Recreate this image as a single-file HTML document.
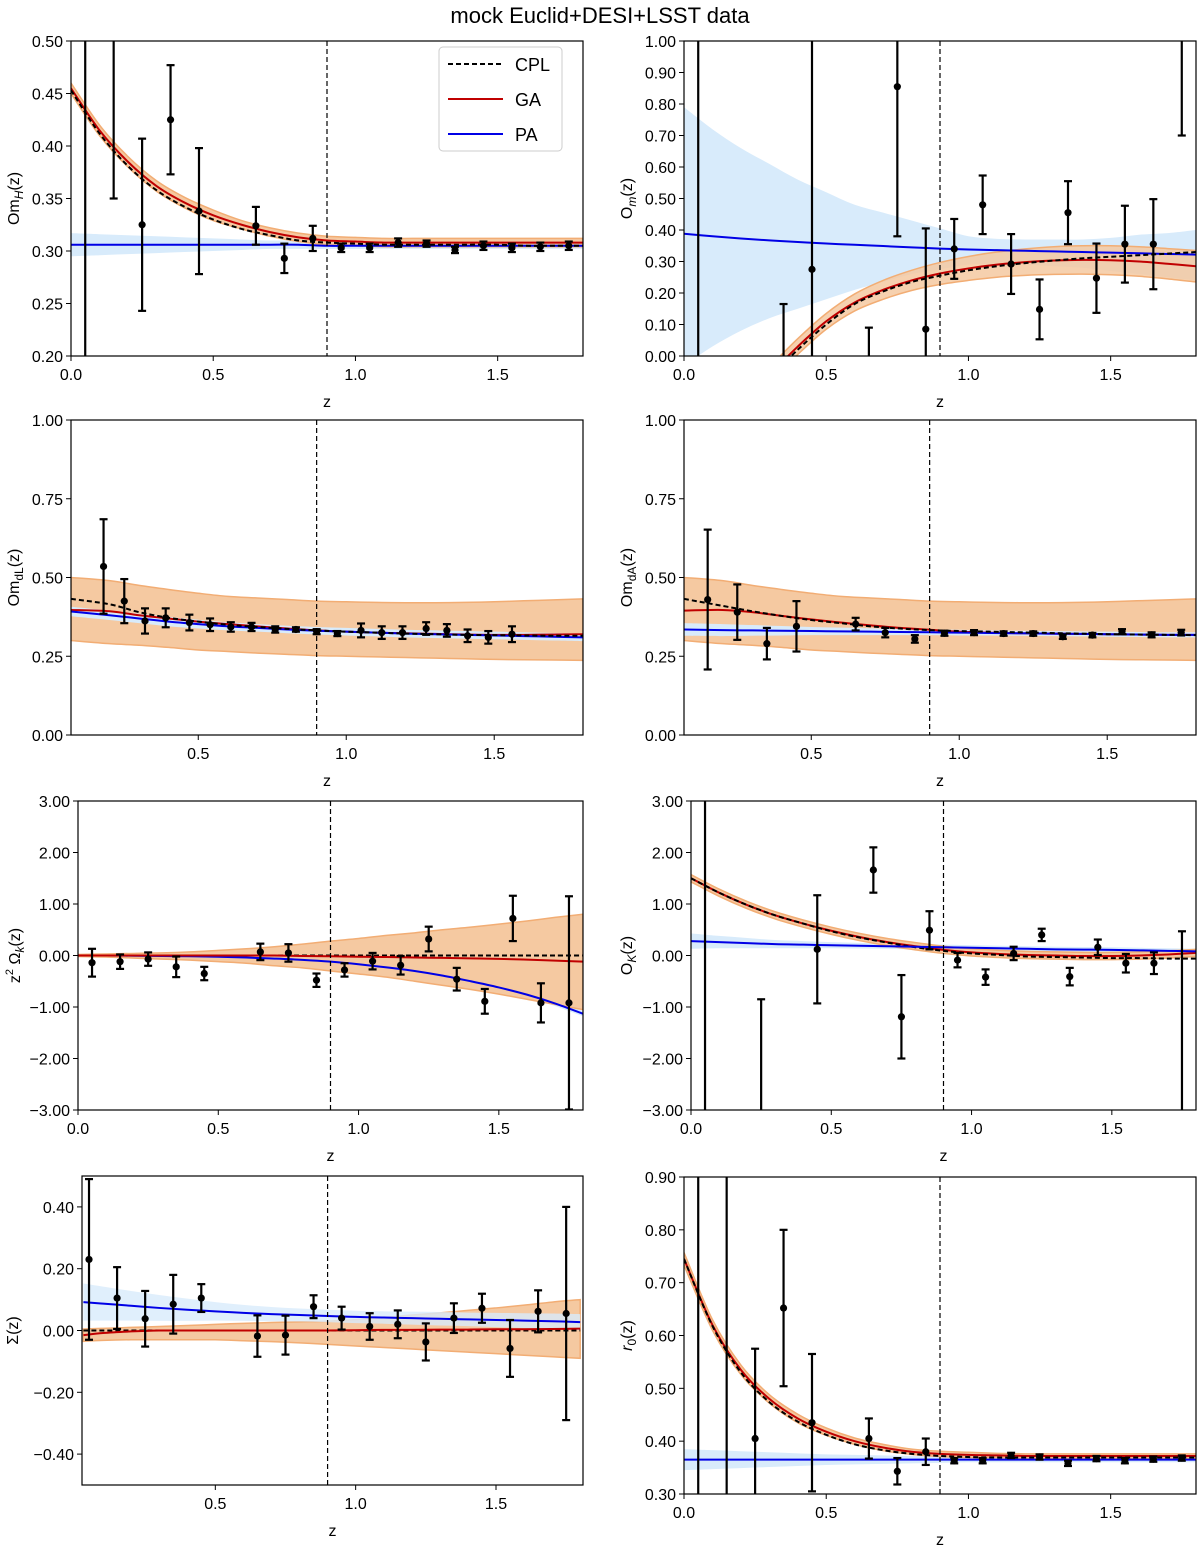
<!DOCTYPE html>
<html><head><meta charset="utf-8"><style>
html,body{margin:0;padding:0;background:#fff;overflow:hidden;width:1200px;height:1548px;}
svg{display:block;font-family:"Liberation Sans",Arial,sans-serif;}
</style></head><body>
<svg id="fig" width="1200" height="1548" viewBox="0 0 1200 1548" xmlns="http://www.w3.org/2000/svg">
<text x="600" y="23" font-size="22" text-anchor="middle" fill="#000">mock Euclid+DESI+LSST data</text>
</svg>
<script>
// ---------- Panel 1: Om_H ----------
const p1_gridZ=[0,0.1,0.2,0.3,0.4,0.5,0.6,0.7,0.8,0.9,1.0,1.1,1.2,1.3,1.4,1.5,1.6,1.7,1.8];
const p1_ga=[0.455,0.415,0.385,0.362,0.346,0.334,0.325,0.318,0.313,0.310,0.309,0.308,0.308,0.308,0.308,0.308,0.308,0.308,0.308];
const p1_gaW=[0.005,0.005,0.005,0.005,0.005,0.005,0.004,0.004,0.004,0.004,0.004,0.004,0.004,0.004,0.004,0.004,0.004,0.004,0.004];
const p1_cpl=[0.453,0.412,0.381,0.358,0.342,0.330,0.321,0.315,0.310,0.308,0.307,0.306,0.306,0.306,0.306,0.306,0.305,0.305,0.305];
const p1_pa=[0.306,0.306,0.306,0.306,0.306,0.306,0.306,0.306,0.306,0.305,0.305,0.305,0.305,0.305,0.305,0.305,0.305,0.305,0.305];
const p1_paW=[0.011,0.010,0.009,0.008,0.007,0.006,0.005,0.004,0.004,0.003,0.003,0.003,0.003,0.003,0.003,0.003,0.003,0.003,0.003];
const p1_dataZ=[0.05,0.15,0.25,0.35,0.45,0.65,0.75,0.85,0.95,1.05,1.15,1.25,1.35,1.45,1.55,1.65,1.75];
const p1_dataY=[0.1,0.56,0.325,0.425,0.338,0.324,0.293,0.312,0.303,0.303,0.308,0.307,0.301,0.305,0.303,0.304,0.305];
const p1_dataE=[0.5,0.21,0.082,0.052,0.06,0.018,0.014,0.012,0.004,0.004,0.004,0.003,0.003,0.004,0.004,0.004,0.004];
const p1_yTicks=[0.20,0.25,0.30,0.35,0.40,0.45,0.50];
// ---------- Panel 2: O_m ----------
const p2_gaZ=[0.3,0.4,0.5,0.6,0.7,0.8,0.9,1.0,1.1,1.2,1.3,1.4,1.5,1.6,1.7,1.8];
const p2_ga=[-0.06,0.03,0.11,0.17,0.21,0.24,0.262,0.278,0.29,0.298,0.303,0.305,0.304,0.300,0.293,0.285];
const p2_gaW=[0.025,0.025,0.025,0.027,0.03,0.032,0.035,0.038,0.04,0.042,0.044,0.045,0.046,0.047,0.048,0.05];
const p2_cpl=[-0.07,0.02,0.10,0.165,0.205,0.235,0.255,0.272,0.285,0.295,0.303,0.31,0.315,0.32,0.325,0.33];
const p2_paZ=[0,0.1,0.2,0.3,0.4,0.5,0.6,0.7,0.8,0.9,1.0,1.1,1.2,1.3,1.4,1.5,1.6,1.7,1.8];
const p2_pa=[0.388,0.38,0.373,0.367,0.362,0.357,0.353,0.349,0.345,0.341,0.338,0.336,0.334,0.332,0.33,0.328,0.326,0.324,0.322];
const p2_paLo=[-0.03,0.03,0.08,0.12,0.15,0.18,0.21,0.235,0.26,0.275,0.29,0.293,0.29,0.285,0.28,0.27,0.26,0.25,0.24];
const p2_paHi=[0.79,0.72,0.66,0.61,0.56,0.52,0.48,0.455,0.43,0.405,0.38,0.372,0.37,0.37,0.37,0.375,0.385,0.39,0.40];
const p2_dataZ=[0.05,0.35,0.45,0.65,0.75,0.85,0.95,1.05,1.15,1.25,1.35,1.45,1.55,1.65,1.75];
const p2_dataY=[1.2,-0.2,0.275,-0.3,0.855,0.085,0.34,0.48,0.292,0.148,0.455,0.247,0.355,0.355,1.2];
const p2_dataE=[1.5,0.365,0.9,0.39,0.475,0.32,0.095,0.093,0.095,0.095,0.1,0.11,0.122,0.143,0.5];
const p2_yTicks=[0,0.1,0.2,0.3,0.4,0.5,0.6,0.7,0.8,0.9,1.0];
// ---------- Panel 3: Om_dL ----------
const p3_gridZ=[0.07,0.2,0.3,0.4,0.5,0.6,0.7,0.8,0.9,1.0,1.1,1.2,1.3,1.4,1.5,1.6,1.7,1.8];
const p3_bandHi=[0.50,0.49,0.475,0.462,0.45,0.44,0.435,0.43,0.425,0.423,0.421,0.42,0.42,0.421,0.423,0.426,0.429,0.432];
const p3_bandLo=[0.30,0.29,0.285,0.278,0.27,0.265,0.26,0.256,0.252,0.25,0.248,0.246,0.244,0.242,0.24,0.239,0.238,0.237];
const p3_ga=[0.397,0.393,0.38,0.37,0.36,0.352,0.345,0.338,0.332,0.328,0.325,0.323,0.321,0.319,0.318,0.318,0.319,0.32];
const p3_cpl=[0.432,0.415,0.39,0.372,0.36,0.35,0.343,0.337,0.332,0.328,0.325,0.322,0.32,0.318,0.317,0.316,0.315,0.315];
const p3_pa=[0.392,0.38,0.37,0.36,0.352,0.345,0.34,0.335,0.331,0.328,0.325,0.322,0.32,0.318,0.316,0.314,0.312,0.31];
const p3_paW=[0.015,0.015,0.015,0.015,0.014,0.013,0.012,0.012,0.012,0.012,0.012,0.012,0.012,0.012,0.012,0.012,0.012,0.012];
const p3_dataZ=[0.18,0.25,0.32,0.39,0.47,0.54,0.61,0.68,0.76,0.83,0.90,0.97,1.05,1.12,1.19,1.27,1.34,1.41,1.48,1.56];
const p3_dataY=[0.535,0.425,0.362,0.372,0.357,0.350,0.343,0.343,0.335,0.335,0.328,0.322,0.332,0.325,0.325,0.338,0.332,0.315,0.310,0.320];
const p3_dataE=[0.15,0.07,0.04,0.03,0.025,0.02,0.015,0.013,0.01,0.007,0.008,0.008,0.022,0.02,0.02,0.02,0.02,0.02,0.02,0.025];
const p3_yTicks=[0,0.25,0.5,0.75,1.0];
// ---------- Panel 4: Om_dA ----------
const p4_gridZ=[0.07,0.2,0.3,0.4,0.5,0.6,0.7,0.8,0.9,1.0,1.1,1.2,1.3,1.4,1.5,1.6,1.7,1.8];
const p4_bandHi=[0.50,0.49,0.475,0.462,0.45,0.44,0.435,0.43,0.425,0.423,0.421,0.42,0.42,0.421,0.423,0.426,0.429,0.432];
const p4_bandLo=[0.30,0.29,0.285,0.278,0.27,0.265,0.26,0.256,0.252,0.25,0.248,0.246,0.244,0.242,0.24,0.239,0.238,0.237];
const p4_ga=[0.395,0.397,0.39,0.378,0.367,0.357,0.348,0.34,0.334,0.328,0.325,0.323,0.322,0.321,0.32,0.319,0.318,0.318];
const p4_cpl=[0.432,0.41,0.393,0.378,0.365,0.355,0.345,0.338,0.333,0.33,0.328,0.326,0.324,0.322,0.32,0.319,0.318,0.317];
const p4_pa=[0.335,0.333,0.332,0.331,0.33,0.329,0.328,0.327,0.326,0.325,0.324,0.323,0.322,0.321,0.32,0.319,0.318,0.318];
const p4_paW=[0.02,0.019,0.017,0.015,0.013,0.012,0.011,0.01,0.009,0.009,0.008,0.008,0.008,0.008,0.008,0.008,0.008,0.008];
const p4_dataZ=[0.15,0.25,0.35,0.45,0.65,0.75,0.85,0.95,1.05,1.15,1.25,1.35,1.45,1.55,1.65,1.75];
const p4_dataY=[0.43,0.39,0.29,0.345,0.352,0.325,0.305,0.323,0.325,0.322,0.322,0.312,0.317,0.328,0.318,0.325];
const p4_dataE=[0.222,0.088,0.05,0.08,0.02,0.015,0.012,0.008,0.008,0.007,0.007,0.007,0.007,0.008,0.008,0.009];
const p4_yTicks=[0,0.25,0.5,0.75,1.0];
// ---------- Panel 5: z^2 Omega_k ----------
const p5_gridZ=[0,0.1,0.2,0.3,0.4,0.5,0.6,0.7,0.8,0.9,1.0,1.1,1.2,1.3,1.4,1.5,1.6,1.7,1.8];
const p5_ga=[0,0,0,0,0,0,0,0,-0.01,-0.015,-0.025,-0.03,-0.04,-0.045,-0.055,-0.065,-0.08,-0.1,-0.12];
const p5_gaHi=[0.02,0.03,0.04,0.05,0.07,0.1,0.13,0.17,0.22,0.28,0.33,0.39,0.44,0.5,0.55,0.61,0.67,0.74,0.8];
const p5_gaLo=[-0.02,-0.03,-0.05,-0.07,-0.09,-0.12,-0.15,-0.2,-0.24,-0.3,-0.36,-0.42,-0.5,-0.58,-0.66,-0.75,-0.85,-0.95,-1.05];
const p5_cpl=[0,0,0,0,0,0,0,0,0,0,0,0,0,0,0,0,0,0,0];
const p5_pa=[0,0,-0.005,-0.01,-0.015,-0.025,-0.04,-0.06,-0.085,-0.12,-0.17,-0.23,-0.3,-0.39,-0.5,-0.62,-0.76,-0.93,-1.13];
const p5_paW=[0.03,0.03,0.03,0.03,0.03,0.03,0.03,0.03,0.03,0.035,0.035,0.04,0.04,0.04,0.045,0.045,0.05,0.05,0.05];
const p5_dataZ=[0.05,0.15,0.25,0.35,0.45,0.65,0.75,0.85,0.95,1.05,1.15,1.25,1.35,1.45,1.55,1.65,1.75];
const p5_dataY=[-0.14,-0.12,-0.07,-0.22,-0.35,0.07,0.05,-0.48,-0.28,-0.11,-0.19,0.32,-0.46,-0.89,0.72,-0.92,-0.92];
const p5_dataE=[0.27,0.14,0.13,0.2,0.13,0.16,0.17,0.13,0.13,0.16,0.18,0.24,0.22,0.24,0.44,0.38,2.07];
const p5_yTicks=[-3,-2,-1,0,1,2,3];
// ---------- Panel 6: O_K ----------
const p6_gridZ=[0,0.1,0.2,0.3,0.4,0.5,0.6,0.7,0.8,0.9,1.0,1.1,1.2,1.3,1.4,1.5,1.6,1.7,1.8];
const p6_ga=[1.5,1.22,0.98,0.78,0.62,0.48,0.36,0.26,0.18,0.11,0.06,0.03,0.01,0,-0.01,-0.01,0.0,0.02,0.05];
const p6_gaW=[0.07,0.07,0.07,0.07,0.07,0.07,0.07,0.07,0.07,0.07,0.07,0.07,0.07,0.07,0.07,0.07,0.07,0.07,0.07];
const p6_cpl=[1.5,1.22,0.98,0.78,0.62,0.47,0.35,0.25,0.16,0.09,0.04,0.01,-0.02,-0.03,-0.04,-0.05,-0.05,-0.06,-0.06];
const p6_pa=[0.28,0.26,0.24,0.22,0.21,0.2,0.19,0.18,0.17,0.16,0.15,0.14,0.13,0.12,0.115,0.11,0.1,0.09,0.08];
const p6_paW=[0.15,0.12,0.1,0.08,0.07,0.06,0.055,0.05,0.05,0.05,0.05,0.05,0.05,0.05,0.05,0.05,0.05,0.05,0.05];
const p6_dataZ=[0.05,0.25,0.45,0.65,0.75,0.85,0.95,1.05,1.15,1.25,1.35,1.45,1.55,1.65,1.75];
const p6_dataY=[3.5,-3.5,0.12,1.66,-1.19,0.49,-0.09,-0.42,0.04,0.40,-0.41,0.16,-0.15,-0.15,-4.0];
const p6_dataE=[7.0,2.65,1.05,0.44,0.81,0.37,0.14,0.15,0.13,0.12,0.17,0.15,0.18,0.21,4.47];
const p6_yTicks=[-3,-2,-1,0,1,2,3];
// ---------- Panel 7: Sigma ----------
const p7_gridZ=[0.03,0.1,0.2,0.3,0.4,0.5,0.6,0.7,0.8,0.9,1.0,1.1,1.2,1.3,1.4,1.5,1.6,1.7,1.8];
const p7_pa=[0.092,0.087,0.08,0.073,0.067,0.062,0.057,0.053,0.05,0.047,0.044,0.042,0.04,0.038,0.036,0.034,0.032,0.03,0.027];
const p7_paW=[0.06,0.055,0.048,0.042,0.036,0.03,0.026,0.023,0.021,0.02,0.02,0.02,0.021,0.022,0.022,0.023,0.024,0.025,0.026];
const p7_ga=[-0.015,-0.008,-0.003,0,0,0,0,0,0,0,0.001,0.002,0.002,0.003,0.003,0.004,0.004,0.005,0.006];
const p7_gaHi=[0.005,0.007,0.01,0.013,0.016,0.02,0.023,0.026,0.028,0.03,0.035,0.042,0.05,0.057,0.065,0.073,0.082,0.092,0.1];
const p7_gaLo=[-0.035,-0.032,-0.03,-0.03,-0.03,-0.03,-0.033,-0.036,-0.04,-0.045,-0.05,-0.055,-0.06,-0.065,-0.07,-0.075,-0.08,-0.085,-0.09];
const p7_cpl=[0,0,0,0,0,0,0,0,0,0,0,0,0,0,0,0,0,0,0];
const p7_dataZ=[0.05,0.15,0.25,0.35,0.45,0.65,0.75,0.85,0.95,1.05,1.15,1.25,1.35,1.45,1.55,1.65,1.75];
const p7_dataY=[0.23,0.105,0.038,0.085,0.105,-0.018,-0.015,0.077,0.04,0.013,0.02,-0.037,0.04,0.072,-0.058,0.062,0.055];
const p7_dataE=[0.26,0.1,0.09,0.095,0.045,0.067,0.063,0.037,0.037,0.043,0.045,0.06,0.048,0.047,0.092,0.068,0.345];
const p7_yTicks=[-0.4,-0.2,0,0.2,0.4];
// ---------- Panel 8: r0 ----------
const p8_gridZ=[0,0.1,0.2,0.3,0.4,0.5,0.6,0.7,0.8,0.9,1.0,1.1,1.2,1.3,1.4,1.5,1.6,1.7,1.8];
const p8_ga=[0.745,0.62,0.535,0.48,0.443,0.418,0.40,0.388,0.38,0.376,0.374,0.373,0.372,0.372,0.372,0.372,0.372,0.372,0.372];
const p8_gaW=[0.012,0.01,0.009,0.008,0.008,0.007,0.006,0.006,0.005,0.005,0.005,0.004,0.004,0.004,0.004,0.004,0.004,0.004,0.004];
const p8_cpl=[0.745,0.618,0.53,0.474,0.437,0.412,0.394,0.383,0.376,0.372,0.37,0.369,0.369,0.369,0.369,0.369,0.369,0.369,0.369];
const p8_pa=[0.365,0.365,0.365,0.365,0.365,0.365,0.365,0.365,0.365,0.365,0.365,0.365,0.365,0.365,0.365,0.365,0.365,0.365,0.365];
const p8_paW=[0.02,0.018,0.016,0.014,0.012,0.01,0.009,0.008,0.007,0.006,0.005,0.005,0.005,0.005,0.005,0.005,0.005,0.005,0.005];
const p8_dataZ=[0.05,0.15,0.25,0.35,0.45,0.65,0.75,0.85,0.95,1.05,1.15,1.25,1.35,1.45,1.55,1.65,1.75];
const p8_dataY=[0.2,1.0,0.405,0.652,0.435,0.405,0.343,0.38,0.363,0.363,0.373,0.37,0.358,0.367,0.363,0.366,0.368];
const p8_dataE=[0.8,0.8,0.17,0.148,0.13,0.038,0.025,0.025,0.005,0.005,0.005,0.005,0.005,0.005,0.005,0.005,0.005];
const p8_yTicks=[0.3,0.4,0.5,0.6,0.7,0.8,0.9];

const NS='http://www.w3.org/2000/svg';
const fig=document.getElementById('fig');
function mk(tag,attrs,parent){const e=document.createElementNS(NS,tag);for(const k in attrs)e.setAttribute(k,attrs[k]);(parent||fig).appendChild(e);return e;}
function smoothPath(pts){
  if(pts.length<2)return '';
  let d='M'+pts[0][0].toFixed(2)+','+pts[0][1].toFixed(2);
  for(let i=0;i<pts.length-1;i++){
    const p0=pts[i-1]||pts[i],p1=pts[i],p2=pts[i+1],p3=pts[i+2]||p2;
    const c1x=p1[0]+(p2[0]-p0[0])/6,c1y=p1[1]+(p2[1]-p0[1])/6;
    const c2x=p2[0]-(p3[0]-p1[0])/6,c2y=p2[1]-(p3[1]-p1[1])/6;
    d+=' C'+c1x.toFixed(2)+','+c1y.toFixed(2)+' '+c2x.toFixed(2)+','+c2y.toFixed(2)+' '+p2[0].toFixed(2)+','+p2[1].toFixed(2);
  }
  return d;
}
function bandPath(zs,lo,hi,X,Y){
  const top=zs.map((z,i)=>[X(z),Y(hi[i])]);
  const bot=zs.map((z,i)=>[X(z),Y(lo[i])]).reverse();
  return smoothPath(top)+' L'+smoothPath(bot).slice(1)+' Z';
}
let clipId=0;
function panel(cfg){
  const {L,R,T,B,xmin,xmax,ymin,ymax,name}=cfg;
  const X=z=>L+(z-xmin)/(xmax-xmin)*(R-L);
  const Y=v=>B-(v-ymin)/(ymax-ymin)*(B-T);
  const clampY=y=>Math.max(T,Math.min(B,y));
  const g=mk('g',{});
  
  
  const cid='clip'+(clipId++);
  const cp=mk('clipPath',{id:cid},g);mk('rect',{x:L,y:T,width:R-L,height:B-T},cp);
  const plot=mk('g',{'clip-path':'url(#'+cid+')'},g);
  (cfg.bands||[]).forEach(b=>{
    const p=mk('path',{d:bandPath(b.z,b.lo,b.hi,X,Y),fill:b.fill,stroke:b.edge||'none','stroke-width':b.edge?1.5:0,'fill-opacity':b.op||1},plot);
    
    
  });
  (cfg.curves||[]).forEach(c=>{
    const pts=c.z.map((z,i)=>[X(z),Y(c.v[i])]);
    const p=mk('path',{d:smoothPath(pts),fill:'none',stroke:c.color,'stroke-width':c.w||2,'stroke-dasharray':c.dash||'none'},plot);
    
    
  });
  const vl=mk('line',{x1:X(0.9),x2:X(0.9),y1:T,y2:B,stroke:'#000','stroke-width':1.2,'stroke-dasharray':'5,3'},plot);
  
  
  const dz=cfg.dataZ,dy=cfg.dataY,de=cfg.dataE;
  dz.forEach((z,i)=>{
    const x=X(z),ry1=Y(dy[i]-de[i]),ry2=Y(dy[i]+de[i]),cy=Y(dy[i]);
    const y1=clampY(ry1),y2=clampY(ry2);
    const eg=mk('g',{},plot);
    
    
    mk('line',{x1:x,x2:x,y1:y1,y2:y2,stroke:'#000','stroke-width':2.2},eg);
    if(ry1>=T&&ry1<=B)mk('line',{x1:x-4,x2:x+4,y1:ry1,y2:ry1,stroke:'#000','stroke-width':2.2},eg);
    if(ry2>=T&&ry2<=B)mk('line',{x1:x-4,x2:x+4,y1:ry2,y2:ry2,stroke:'#000','stroke-width':2.2},eg);
    if(cy>=T&&cy<=B)mk('circle',{cx:x,cy:cy,r:3.6,fill:'#000'},eg);
  });
  const fr=mk('rect',{x:L,y:T,width:R-L,height:B-T,fill:'none',stroke:'#000','stroke-width':1.2},g);
  
  
  cfg.xTicks.forEach(t=>{
    const x=X(t);
    mk('line',{x1:x,x2:x,y1:B,y2:B+5,stroke:'#000','stroke-width':1},g);
    const tx=mk('text',{x:x,y:B+24,'font-size':16,'text-anchor':'middle',fill:'#000'},g);
    tx.textContent=t.toFixed(1);
    
    
  });
  cfg.yTicks.forEach(t=>{
    const y=Y(t);
    mk('line',{x1:L-5,x2:L,y1:y,y2:y,stroke:'#000','stroke-width':1},g);
    const tx=mk('text',{x:L-8,y:y+6,'font-size':16,'text-anchor':'end',fill:'#000'},g);
    tx.textContent=(t<0?'\u2212':'')+Math.abs(t).toFixed(2);
    
    
  });
  const xt=mk('text',{x:(L+R)/2,y:B+51,'font-size':16,'text-anchor':'middle',fill:'#000'},g);
  xt.textContent='z';
  
  
  const yx=cfg.yLabelX,yy=(T+B)/2;
  const yt=mk('text',{x:yx,y:yy,'font-size':16,'text-anchor':'middle',fill:'#000',transform:'rotate(-90 '+yx+' '+yy+')'},g);
  yt.innerHTML=cfg.yLabel;
  
  
  return {g,X,Y};
}
const ORANGE='#f5c9a1',OEDGE='#f2ad74',LBLUE='#d8ebfb',RED='#c00000',BLUE='#0000e6';
function lohi(c,w,s){return c.map((v,i)=>v+s*w[i]);}
const X4=[0.0,0.5,1.0,1.5],X3=[0.5,1.0,1.5];

panel({name:'panel-om-h',L:71,R:583,T:41,B:356,xmin:0,xmax:1.8,ymin:0.2,ymax:0.5,xTicks:X4,yTicks:p1_yTicks,yLabelX:19,
 yLabel:'Om<tspan font-style="italic" font-size="12" dy="4">H</tspan><tspan dy="-4">(z)</tspan>',
 bands:[{name:'pa-band',z:p1_gridZ,lo:lohi(p1_pa,p1_paW,-1),hi:lohi(p1_pa,p1_paW,1),fill:LBLUE},
        {name:'ga-band',z:p1_gridZ,lo:lohi(p1_ga,p1_gaW,-1),hi:lohi(p1_ga,p1_gaW,1),fill:ORANGE,edge:OEDGE}],
 curves:[{name:'pa-curve',z:p1_gridZ,v:p1_pa,color:BLUE},{name:'ga-curve',z:p1_gridZ,v:p1_ga,color:RED},{name:'cpl-curve',z:p1_gridZ,v:p1_cpl,color:'#000',dash:'5,3'}],
 dataZ:p1_dataZ,dataY:p1_dataY,dataE:p1_dataE});

panel({name:'panel-om',L:684,R:1196,T:41,B:356,xmin:0,xmax:1.8,ymin:0,ymax:1,xTicks:X4,yTicks:p2_yTicks,yLabelX:632,
 yLabel:'O<tspan font-style="italic" font-size="12" dy="4">m</tspan><tspan dy="-4">(z)</tspan>',
 bands:[{name:'pa-band',z:p2_paZ,lo:p2_paLo,hi:p2_paHi,fill:LBLUE},
        {name:'ga-band',z:p2_gaZ,lo:lohi(p2_ga,p2_gaW,-1),hi:lohi(p2_ga,p2_gaW,1),fill:ORANGE,edge:OEDGE,op:0.85}],
 curves:[{name:'pa-curve',z:p2_paZ,v:p2_pa,color:BLUE},{name:'ga-curve',z:p2_gaZ,v:p2_ga,color:RED},{name:'cpl-curve',z:p2_gaZ,v:p2_cpl,color:'#000',dash:'5,3'}],
 dataZ:p2_dataZ,dataY:p2_dataY,dataE:p2_dataE});

panel({name:'panel-om-dl',L:71,R:583,T:420,B:735,xmin:0.07,xmax:1.8,ymin:0,ymax:1,xTicks:X3,yTicks:p3_yTicks,yLabelX:19,
 yLabel:'Om<tspan font-size="12" dy="4">dL</tspan><tspan dy="-4">(z)</tspan>',
 bands:[{name:'ga-band',z:p3_gridZ,lo:p3_bandLo,hi:p3_bandHi,fill:ORANGE,edge:OEDGE},
        {name:'pa-band',z:p3_gridZ,lo:lohi(p3_pa,p3_paW,-1),hi:lohi(p3_pa,p3_paW,1),fill:LBLUE}],
 curves:[{name:'ga-curve',z:p3_gridZ,v:p3_ga,color:RED},{name:'pa-curve',z:p3_gridZ,v:p3_pa,color:BLUE},{name:'cpl-curve',z:p3_gridZ,v:p3_cpl,color:'#000',dash:'5,3'}],
 dataZ:p3_dataZ,dataY:p3_dataY,dataE:p3_dataE});

panel({name:'panel-om-da',L:684,R:1196,T:420,B:735,xmin:0.07,xmax:1.8,ymin:0,ymax:1,xTicks:X3,yTicks:p4_yTicks,yLabelX:632,
 yLabel:'Om<tspan font-size="12" dy="4">dA</tspan><tspan dy="-4">(z)</tspan>',
 bands:[{name:'ga-band',z:p4_gridZ,lo:p4_bandLo,hi:p4_bandHi,fill:ORANGE,edge:OEDGE},
        {name:'pa-band',z:p4_gridZ,lo:lohi(p4_pa,p4_paW,-1),hi:lohi(p4_pa,p4_paW,1),fill:LBLUE}],
 curves:[{name:'ga-curve',z:p4_gridZ,v:p4_ga,color:RED},{name:'pa-curve',z:p4_gridZ,v:p4_pa,color:BLUE},{name:'cpl-curve',z:p4_gridZ,v:p4_cpl,color:'#000',dash:'5,3'}],
 dataZ:p4_dataZ,dataY:p4_dataY,dataE:p4_dataE});

panel({name:'panel-z2-omega-k',L:78,R:583,T:801,B:1110,xmin:0,xmax:1.8,ymin:-3,ymax:3,xTicks:X4,yTicks:p5_yTicks,yLabelX:20,
 yLabel:'z<tspan font-size="11" dy="-7">2</tspan><tspan dy="7">&#160;&#937;</tspan><tspan font-style="italic" font-size="12" dy="4">k</tspan><tspan dy="-4">(z)</tspan>',
 bands:[{name:'pa-band',z:p5_gridZ,lo:lohi(p5_pa,p5_paW,-1),hi:lohi(p5_pa,p5_paW,1),fill:LBLUE},
        {name:'ga-band',z:p5_gridZ,lo:p5_gaLo,hi:p5_gaHi,fill:ORANGE,edge:OEDGE}],
 curves:[{name:'pa-curve',z:p5_gridZ,v:p5_pa,color:BLUE},{name:'cpl-curve',z:p5_gridZ,v:p5_cpl,color:'#000',dash:'5,3'},{name:'ga-curve',z:p5_gridZ,v:p5_ga,color:RED}],
 dataZ:p5_dataZ,dataY:p5_dataY,dataE:p5_dataE});

panel({name:'panel-o-k',L:691,R:1196,T:801,B:1110,xmin:0,xmax:1.8,ymin:-3,ymax:3,xTicks:X4,yTicks:p6_yTicks,yLabelX:632,
 yLabel:'O<tspan font-style="italic" font-size="12" dy="4">K</tspan><tspan dy="-4">(z)</tspan>',
 bands:[{name:'pa-band',z:p6_gridZ,lo:lohi(p6_pa,p6_paW,-1),hi:lohi(p6_pa,p6_paW,1),fill:LBLUE},
        {name:'ga-band',z:p6_gridZ,lo:lohi(p6_ga,p6_gaW,-1),hi:lohi(p6_ga,p6_gaW,1),fill:ORANGE,edge:OEDGE}],
 curves:[{name:'ga-curve',z:p6_gridZ,v:p6_ga,color:RED},{name:'cpl-curve',z:p6_gridZ,v:p6_cpl,color:'#000',dash:'5,3'},{name:'pa-curve',z:p6_gridZ,v:p6_pa,color:BLUE}],
 dataZ:p6_dataZ,dataY:p6_dataY,dataE:p6_dataE});

panel({name:'panel-sigma',L:82,R:583,T:1176,B:1485,xmin:0.025,xmax:1.81,ymin:-0.5,ymax:0.5,xTicks:X3,yTicks:p7_yTicks,yLabelX:18,
 yLabel:'&#931;(z)',
 bands:[{name:'ga-band',z:p7_gridZ,lo:p7_gaLo,hi:p7_gaHi,fill:ORANGE,edge:OEDGE},
        {name:'pa-band',z:p7_gridZ,lo:lohi(p7_pa,p7_paW,-1),hi:lohi(p7_pa,p7_paW,1),fill:LBLUE,op:0.8}],
 curves:[{name:'cpl-curve',z:p7_gridZ,v:p7_cpl,color:'#000',dash:'5,3'},{name:'ga-curve',z:p7_gridZ,v:p7_ga,color:RED},{name:'pa-curve',z:p7_gridZ,v:p7_pa,color:BLUE}],
 dataZ:p7_dataZ,dataY:p7_dataY,dataE:p7_dataE});

panel({name:'panel-r0',L:684,R:1196,T:1177,B:1494,xmin:0,xmax:1.8,ymin:0.3,ymax:0.9,xTicks:X4,yTicks:p8_yTicks,yLabelX:632,
 yLabel:'<tspan font-style="italic">r</tspan><tspan font-size="12" dy="4">0</tspan><tspan dy="-4">(z)</tspan>',
 bands:[{name:'pa-band',z:p8_gridZ,lo:lohi(p8_pa,p8_paW,-1),hi:lohi(p8_pa,p8_paW,1),fill:LBLUE},
        {name:'ga-band',z:p8_gridZ,lo:lohi(p8_ga,p8_gaW,-1),hi:lohi(p8_ga,p8_gaW,1),fill:ORANGE,edge:OEDGE}],
 curves:[{name:'pa-curve',z:p8_gridZ,v:p8_pa,color:BLUE},{name:'ga-curve',z:p8_gridZ,v:p8_ga,color:RED},{name:'cpl-curve',z:p8_gridZ,v:p8_cpl,color:'#000',dash:'5,3'}],
 dataZ:p8_dataZ,dataY:p8_dataY,dataE:p8_dataE});

const lg=mk('g',{});


mk('rect',{x:439,y:47,width:123,height:104,rx:4,fill:'#fff',stroke:'#ccc','stroke-width':1},lg);
const legItems=[['CPL','#000','5,3',64],['GA',RED,'none',99],['PA',BLUE,'none',134]];
legItems.forEach(it=>{
  const e=mk('g',{},lg);
  
  
  mk('line',{x1:448,x2:503,y1:it[3],y2:it[3],stroke:it[1],'stroke-width':2,'stroke-dasharray':it[2]},e);
  const t=mk('text',{x:515,y:it[3]+7,'font-size':18,fill:'#000'},e);
  t.textContent=it[0];
});
</script>
</body></html>
